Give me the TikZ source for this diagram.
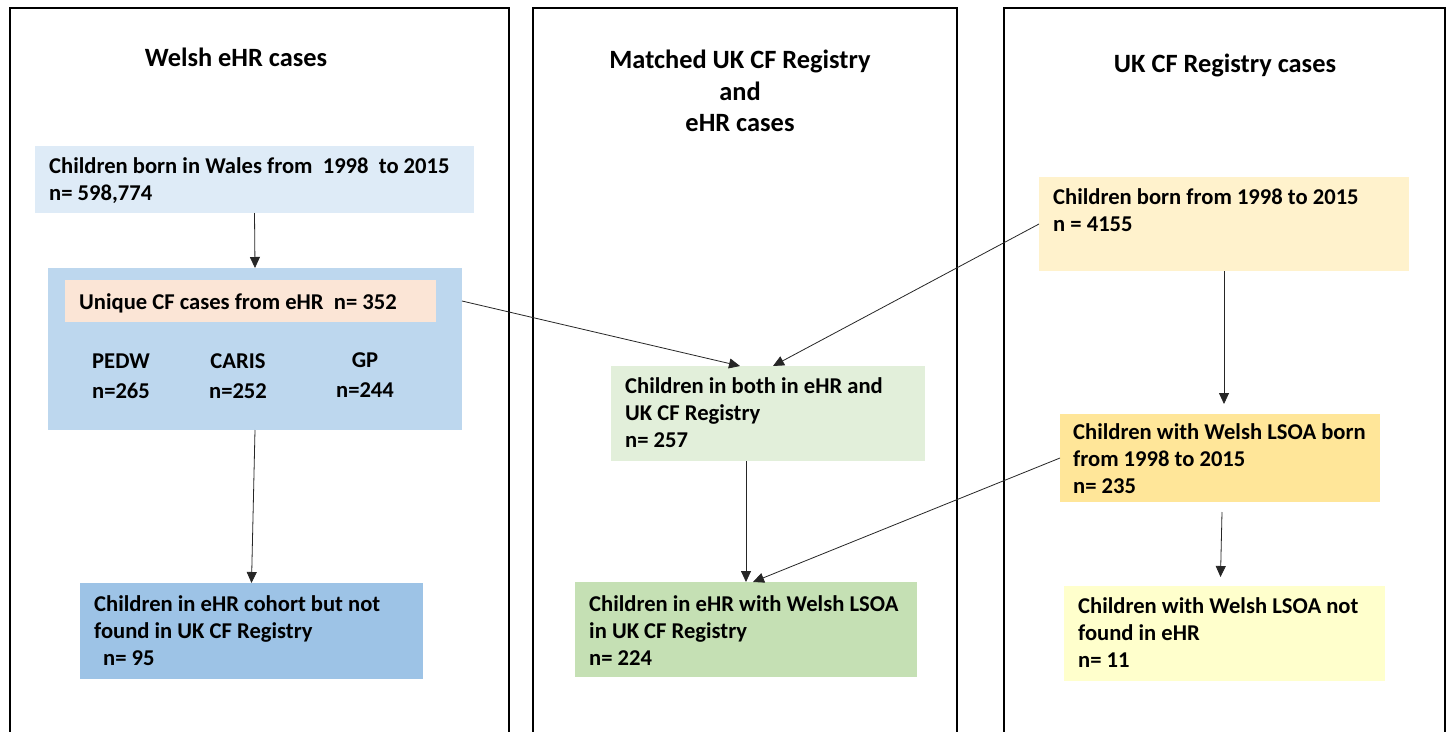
\documentclass[tikz,border=0pt]{standalone}
\usepackage{fontspec}
\setmainfont{Carlito}
\usetikzlibrary{arrows.meta,calc}
\newcommand\st{\rule{0pt}{18pt}}
\begin{document}
\begin{tikzpicture}[x=1pt,y=-1pt,
  box/.style={draw=none, inner sep=0pt, outer sep=0pt, anchor=north west},
  txt/.style={anchor=north west, inner sep=0pt, align=left, font=\fontsize{22.6}{27}\selectfont\bfseries},
  ttl/.style={anchor=north, inner sep=0pt, align=center, font=\fontsize{26.4}{31.5}\selectfont\bfseries},
  col/.style={anchor=north, inner sep=0pt, align=center, font=\fontsize{22.6}{30}\selectfont\bfseries},
  arr/.style={draw=black!85, line width=0.8pt, -{Triangle[length=11pt,width=10pt]}},
  panel/.style={draw=black, line width=2.6pt}]
\useasboundingbox[fill=white] (0,0) rectangle (1451,731);

% panels
\draw[panel] (10,745) -- (10,8) -- (509,8) -- (509,745);
\draw[panel] (533,745) -- (533,8) -- (957,8) -- (957,745);
\draw[panel] (1004,745) -- (1004,8) -- (1445,8) -- (1445,745);

% titles
\node[ttl] (tw) at (236,48) {\st Welsh eHR cases};
\node[ttl] (tm) at (740,50) {\st Matched UK CF Registry\\and\\eHR cases};
\node[ttl] (tr) at (1225,54) {\st UK CF Registry cases};

% boxes
\node[box, fill={rgb,255:red,222;green,235;blue,247}, minimum width=439, minimum height=67] (b1) at (35,146) {};
\node[box, fill={rgb,255:red,189;green,215;blue,238}, minimum width=414, minimum height=162] (b2) at (48,268) {};
\node[box, fill={rgb,255:red,251;green,229;blue,214}, minimum width=371, minimum height=42] (u) at (65,280) {};
\node[box, fill={rgb,255:red,157;green,195;blue,230}, minimum width=343, minimum height=96] (b3) at (80,583) {};
\node[box, fill={rgb,255:red,226;green,239;blue,218}, minimum width=314, minimum height=95] (m1) at (611,366) {};
\node[box, fill={rgb,255:red,197;green,224;blue,180}, minimum width=342, minimum height=95] (m2) at (575,582) {};
\node[box, fill={rgb,255:red,255;green,242;blue,204}, minimum width=370, minimum height=94] (r1) at (1039,177) {};
\node[box, fill={rgb,255:red,255;green,230;blue,153}, minimum width=320, minimum height=88] (r2) at (1060,414) {};
\node[box, fill={rgb,255:red,255;green,255;blue,204}, minimum width=321, minimum height=95] (r3) at (1064,586) {};

% texts
\node[txt] (tb1) at (49,155.5) {\st Children born in Wales from\ \ 1998\ \ to 2015\\n= 598,774};
\node[txt] (tu) at (79,291.5) {\st Unique CF cases from eHR\ \ n= 352};
\node[col] (c1) at (121,350) {\st PEDW\\n=265};
\node[col] (c2) at (238,350) {\st CARIS\\n=252};
\node[col] (c3) at (365,349) {\st GP\\n=244};
\node[txt] (tb3) at (94,593.5) {\st Children in eHR cohort but not\\found in UK CF Registry\\\hspace*{9pt}n= 95};
\node[txt] (tm1) at (625,375.5) {\st Children in both in eHR and\\UK CF Registry\\n= 257};
\node[txt] (tm2) at (589,593.5) {\st Children in eHR with Welsh LSOA\\in UK CF Registry\\n= 224};
\node[txt] (tr1) at (1053,186.5) {\st Children born from 1998 to 2015\\n = 4155};
\node[txt] (tr2) at (1073,421.5) {\st Children with Welsh LSOA born\\from 1998 to 2015\\n= 235};
\node[txt] (tr3) at (1078,595.5) {\st Children with Welsh LSOA not\\found in eHR\\n= 11};

% connectors
\draw[arr] (b1.south) -- (b2.north);
\draw[arr] (b2.south) -- (b3.north);
\draw[arr] (b2.east |- u.east) -- ($(m1.north)+(-28,0)$);
\draw[arr] (r1.west) -- ($(m1.north)+(5,0)$);
\draw[arr] (m1.south -| m2.north) -- (m2.north);
\draw[arr] (r2.west) -- ($(m2.north)+(7,0)$);
\draw[arr] (r1.south) -- ($(r1.south |- r2.north)+(0,-10)$);
\draw[arr] ($(r2.south)+(2,10)$) -- ($(r3.north)+(-4,-9)$);
\end{tikzpicture}
\end{document}
